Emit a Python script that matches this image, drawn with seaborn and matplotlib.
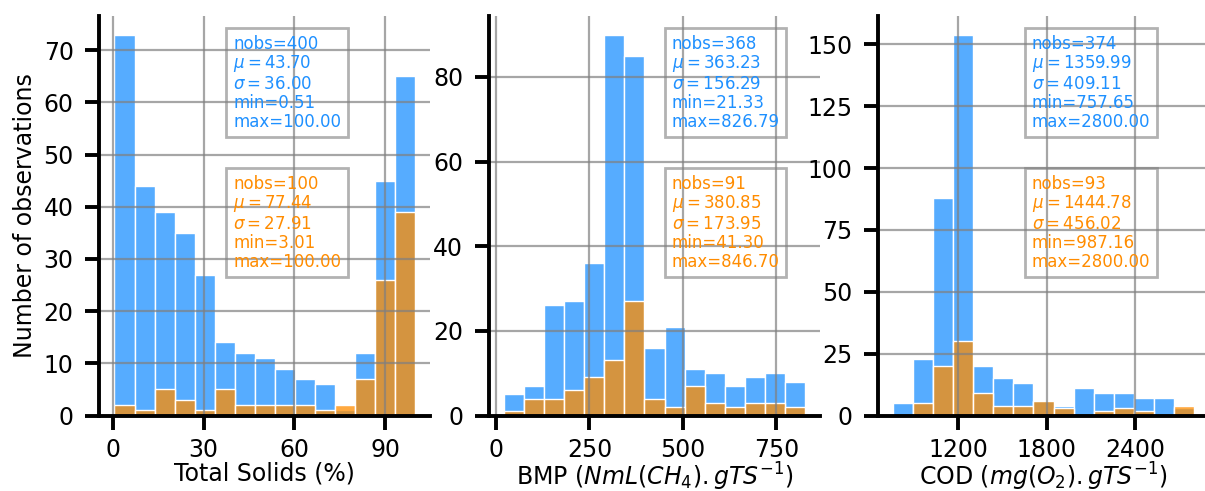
import numpy as np
import pandas as pd
import matplotlib
matplotlib.use("Agg")
import matplotlib.pyplot as plt
import seaborn as sns

# ---------------- data ----------------
# Panel 1 : Total Solids (%)
TS_BIN_RANGE = [0.51, 100.00]
TS_BLUE = [73, 44, 39, 35, 27, 14, 12, 11, 9, 7, 6, 1, 12, 45, 65]
TS_ORANGE = [2, 1, 5, 3, 1, 5, 2, 2, 2, 2, 1, 2, 7, 26, 39]
TS_XTICKS = [0, 30, 60, 90]
TS_YTICKS = [0, 10, 20, 30, 40, 50, 60, 70]
TS_STATS_BLUE = [400, 43.70, 36.00, 0.51, 100.00]
TS_STATS_ORANGE = [100, 77.44, 27.91, 3.01, 100.00]

# Panel 2 : BMP
BMP_BIN_RANGE = [21.33, 826.79]
BMP_BLUE = [5, 7, 26, 27, 36, 90, 85, 16, 21, 11, 10, 7, 9, 10, 8]
BMP_ORANGE = [1, 4, 4, 6, 9, 13, 27, 4, 2, 7, 3, 2, 3, 3, 2]
BMP_XTICKS = [0, 250, 500, 750]
BMP_YTICKS = [0, 20, 40, 60, 80]
BMP_STATS_BLUE = [368, 363.23, 156.29, 21.33, 826.79]
BMP_STATS_ORANGE = [91, 380.85, 173.95, 41.30, 846.70]

# Panel 3 : COD
COD_BIN_RANGE = [757.65, 2800.00]
COD_BLUE = [5, 23, 88, 154, 20, 15, 13, 6, 4, 11, 9, 9, 7, 7, 3]
COD_ORANGE = [0, 5, 20, 30, 9, 4, 4, 6, 3, 0, 2, 3, 2, 0, 4]
COD_XTICKS = [1200, 1800, 2400]
COD_YTICKS = [0, 25, 50, 75, 100, 125, 150]
COD_STATS_BLUE = [374, 1359.99, 409.11, 757.65, 2800.00]
COD_STATS_ORANGE = [93, 1444.78, 456.02, 987.16, 2800.00]

XLABELS = ["Total Solids (%)",
           r"BMP $(NmL(CH_4).gTS^{-1})$",
           r"COD $(mg(O_2).gTS^{-1})$"]
YLABEL = "Number of observations"

BLUE = "#1E90FF"
ORANGE = "#FF8C00"

panels = [
    (TS_BIN_RANGE, TS_BLUE, TS_ORANGE, TS_XTICKS, TS_YTICKS, TS_STATS_BLUE, TS_STATS_ORANGE),
    (BMP_BIN_RANGE, BMP_BLUE, BMP_ORANGE, BMP_XTICKS, BMP_YTICKS, BMP_STATS_BLUE, BMP_STATS_ORANGE),
    (COD_BIN_RANGE, COD_BLUE, COD_ORANGE, COD_XTICKS, COD_YTICKS, COD_STATS_BLUE, COD_STATS_ORANGE),
]

# layout
AX_LEFTS = [99.4 / 1205, 489 / 1205, 878 / 1205]
AX_W = 331 / 1205
AX_B = 1 - 415.5 / 491
AX_H = 400 / 491
TEXT_X = [0.404, 0.552, 0.464]

TICK_FS = 17
STAT_FS = 12


def stat_text(s):
    n, mu, sd, mn, mx = s
    return (f"nobs={n}\n"
            + r"$\mu=" + f"{mu:.2f}" + r"$" + "\n"
            + r"$\sigma=" + f"{sd:.2f}" + r"$" + "\n"
            + f"min={mn:.2f}\nmax={mx:.2f}")


fig = plt.figure(figsize=(12.05, 4.91), dpi=100)

for i, (rng, blue, orange, xt, yt, sb, so) in enumerate(panels):
    ax = fig.add_axes([AX_LEFTS[i], AX_B, AX_W, AX_H])
    edges = np.linspace(rng[0], rng[1], len(blue) + 1)
    centers = (edges[:-1] + edges[1:]) / 2
    df_b = pd.DataFrame({"x": centers, "w": blue})
    df_o = pd.DataFrame({"x": centers, "w": orange})
    sns.histplot(data=df_b, x="x", weights="w", bins=list(edges), ax=ax,
                 color=BLUE, alpha=0.75, edgecolor="white", linewidth=1)
    sns.histplot(data=df_o, x="x", weights="w", bins=list(edges), ax=ax,
                 color=ORANGE, alpha=0.75, edgecolor="white", linewidth=1)

    span = rng[1] - rng[0]
    ax.set_xlim(rng[0] - 0.05 * span, rng[1] + 0.05 * span)
    ax.set_ylim(0, max(blue) * 1.05)
    ax.set_xticks(xt)
    ax.set_yticks(yt)
    ax.grid(True, color="gray", alpha=0.7, linewidth=1.6)

    for sp in ["top", "right"]:
        ax.spines[sp].set_visible(False)
    for sp in ["left", "bottom"]:
        ax.spines[sp].set_linewidth(2.8)
        ax.spines[sp].set_color("black")
    ax.tick_params(axis="both", length=10, width=2.8, labelsize=TICK_FS, colors="black")
    ax.tick_params(axis="x", pad=6.5)
    ax.tick_params(axis="y", pad=8.5)

    ax.set_xlabel(XLABELS[i], fontsize=TICK_FS, labelpad=-1)
    if i == 0:
        ax.set_ylabel(YLABEL, fontsize=TICK_FS, labelpad=4.5)
    else:
        ax.set_ylabel("")

    box = dict(boxstyle="square,pad=0.4", facecolor="none", edgecolor="gray",
               alpha=0.6, linewidth=2)
    ax.text(TEXT_X[i], 0.952, stat_text(sb), transform=ax.transAxes, ha="left", va="top",
            fontsize=STAT_FS, color=BLUE, bbox=box, linespacing=1.05)
    ax.text(TEXT_X[i], 0.602, stat_text(so), transform=ax.transAxes, ha="left", va="top",
            fontsize=STAT_FS, color=ORANGE, bbox=box, linespacing=1.05)

fig.savefig("out.png", dpi=100)
